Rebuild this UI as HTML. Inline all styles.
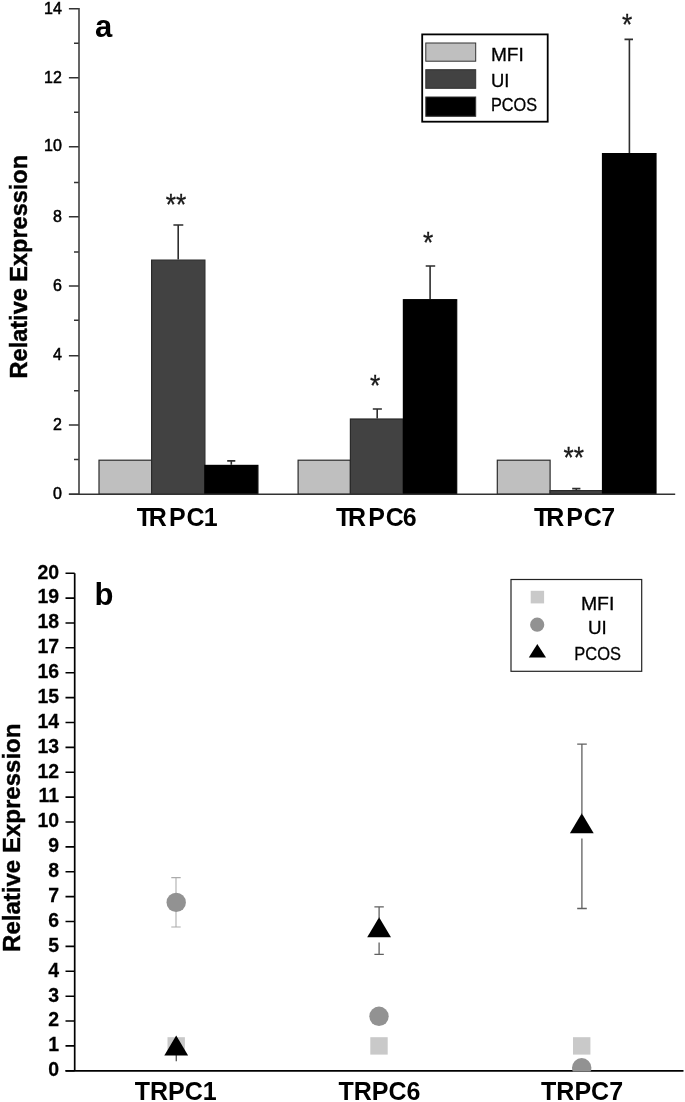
<!DOCTYPE html>
<html lang="en">
<head>
<meta charset="utf-8">
<title>Relative expression of TRPC1, TRPC6 and TRPC7</title>
<style>
html,body{margin:0;padding:0;background:#fff;}
body{width:685px;height:1102px;overflow:hidden;font-family:"Liberation Sans",sans-serif;}
svg{display:block;}
</style>
</head>
<body>
<svg width="685" height="1102" viewBox="0 0 685 1102">
<defs><filter id="soft" x="0" y="0" width="685" height="1102" filterUnits="userSpaceOnUse"><feGaussianBlur stdDeviation="0.45"/></filter></defs>
<rect width="685" height="1102" fill="#fff"/>
<g filter="url(#soft)">
<rect width="685" height="1102" fill="#fff"/>
<g id="chartA">
<path d="M178.2 259.5V225.0M173.4 225.0H183.3" stroke="#2e2e2e" stroke-width="1.6" fill="none"/>
<path d="M231.3 464.8V460.9M227.2 460.9H235.3" stroke="#2e2e2e" stroke-width="1.6" fill="none"/>
<path d="M377.2 418.4V409.0M372.8 409.0H381.9" stroke="#2e2e2e" stroke-width="1.6" fill="none"/>
<path d="M430.1 299.1V266.0M425.7 266.0H435.2" stroke="#2e2e2e" stroke-width="1.6" fill="none"/>
<path d="M576.3 490.0V488.6M572.2 488.6H580.4" stroke="#2e2e2e" stroke-width="1.6" fill="none"/>
<path d="M629.4 153.0V39.4M624.5 39.4H633.0" stroke="#2e2e2e" stroke-width="1.6" fill="none"/>
<rect x="99.0" y="460.2" width="52.6" height="34.1" fill="#bfbfbf" stroke="#2b2b2b" stroke-width="1.2"/>
<rect x="151.6" y="260.1" width="53.3" height="234.2" fill="#424242" stroke="#2b2b2b" stroke-width="1.2"/>
<rect x="204.9" y="465.4" width="53.0" height="28.9" fill="#000000" stroke="#000" stroke-width="1.2"/>
<rect x="298.1" y="460.2" width="52.3" height="34.1" fill="#bfbfbf" stroke="#2b2b2b" stroke-width="1.2"/>
<rect x="350.4" y="419.0" width="53.0" height="75.3" fill="#424242" stroke="#2b2b2b" stroke-width="1.2"/>
<rect x="403.4" y="299.7" width="53.3" height="194.6" fill="#000000" stroke="#000" stroke-width="1.2"/>
<rect x="497.3" y="460.2" width="52.8" height="34.1" fill="#bfbfbf" stroke="#2b2b2b" stroke-width="1.2"/>
<rect x="550.1" y="490.6" width="52.4" height="3.7" fill="#424242" stroke="#2b2b2b" stroke-width="1.2"/>
<rect x="602.5" y="153.6" width="53.5" height="340.7" fill="#000000" stroke="#000" stroke-width="1.2"/>
<path d="M79.0 8.0V494.3M68.9 494.3H675.2" stroke="#333333" stroke-width="1.5" fill="none"/>
<path d="M68.9 494.2H78.8M74.0 459.5H78.8M68.9 424.9H78.8M74.0 390.8H78.8M68.9 355.8H78.8M74.0 320.3H78.8M68.9 285.9H78.8M74.0 252.0H78.8M68.9 216.8H78.8M74.0 182.4H78.8M68.9 146.8H78.8M74.0 112.2H78.8M68.9 77.7H78.8M74.0 43.2H78.8M68.9 8.7H78.8" stroke="#333333" stroke-width="1.5" fill="none"/>
<g font-family="'Liberation Sans', sans-serif" font-size="16" fill="#000" stroke="#000" stroke-width="0.5" text-anchor="end">
<text x="61.8" y="499.1">0</text>
<text x="61.8" y="429.8">2</text>
<text x="61.8" y="360.0">4</text>
<text x="61.8" y="290.8">6</text>
<text x="61.8" y="221.8">8</text>
<text x="61.8" y="151.4">10</text>
<text x="61.8" y="82.6">12</text>
<text x="61.8" y="13.6">14</text>
</g>
<text transform="translate(26.6 378.4) rotate(-90)" font-family="'Liberation Sans', sans-serif" font-weight="bold" font-size="24" textLength="223.5" lengthAdjust="spacingAndGlyphs" fill="#000" stroke="#000" stroke-width="0.45">Relative Expression</text>
<text x="95" y="36.7" font-family="'Liberation Sans', sans-serif" font-weight="bold" font-size="31" fill="#000">a</text>
<g font-family="'Liberation Sans', sans-serif" font-weight="bold" font-size="26" fill="#000">
<text transform="translate(136.1 526.3) scale(0.96 1.02)" x="0.6 13.2 34.2 52.4 70.6" y="0">TRPC1</text>
<text transform="translate(335.4 526.3) scale(0.96 1.02)" x="0.6 13.2 34.2 52.4 70.2" y="0">TRPC6</text>
<text transform="translate(533.5 526.3) scale(0.96 1.02)" x="0.6 13.2 34.2 52.4 70.7" y="0">TRPC7</text>
</g>
<g font-family="'Liberation Sans', sans-serif" font-size="28" fill="#1a1a1a" stroke="#1a1a1a" stroke-width="0.3" text-anchor="middle">
<text transform="translate(176.1 213.7) scale(0.94 1.06)">**</text>
<text transform="translate(428 252.3) scale(0.94 1.06)">*</text>
<text transform="translate(375 394.7) scale(0.94 1.06)">*</text>
<text transform="translate(573.8 466.6) scale(0.94 1.06)">**</text>
<text transform="translate(627 33.8) scale(0.94 1.06)">*</text>
</g>
<rect x="422.2" y="34.4" width="125.5" height="87.3" fill="#fff" stroke="#000" stroke-width="1.8"/>
<rect x="425.8" y="43" width="49.9" height="18.2" fill="#bfbfbf" stroke="#333" stroke-width="1"/>
<rect x="425.8" y="69.7" width="49.9" height="18.6" fill="#424242" stroke="#333" stroke-width="1"/>
<rect x="425.8" y="97" width="49.9" height="19.3" fill="#000000" stroke="#333" stroke-width="1"/>
<g font-family="'Liberation Sans', sans-serif" font-size="19" fill="#000" stroke="#000" stroke-width="0.3">
<text x="490.9" y="61.2" textLength="32.9" lengthAdjust="spacingAndGlyphs">MFI</text>
<text x="490.9" y="86.5" textLength="18.4" lengthAdjust="spacingAndGlyphs">UI</text>
<text x="490.9" y="111.0" textLength="46.2" lengthAdjust="spacingAndGlyphs">PCOS</text>
</g>
</g>
<g id="chartB">
<rect x="167.5" y="1037.2" width="17.4" height="17.4" fill="#c9c9c9"/>
<rect x="370.3" y="1037.2" width="17.4" height="17.4" fill="#c9c9c9"/>
<rect x="573.0" y="1037.2" width="17.4" height="17.4" fill="#c9c9c9"/>
<path d="M176 877.6V926.9M171.3 877.6H180.7M171.3 926.9H180.7" stroke="#ababab" stroke-width="1.05" fill="none"/>
<path d="M74.7 573.2V1070.8M65.5 1070.8H683.5" stroke="#000" stroke-width="1.7" fill="none"/>
<path d="M65.5 1070.8H74.7M65.5 1045.9H74.7M65.5 1021.0H74.7M65.5 996.2H74.7M65.5 971.3H74.7M65.5 946.4H74.7M65.5 921.5H74.7M65.5 896.6H74.7M65.5 871.8H74.7M65.5 846.9H74.7M65.5 822.0H74.7M65.5 797.1H74.7M65.5 772.2H74.7M65.5 747.4H74.7M65.5 722.5H74.7M65.5 697.6H74.7M65.5 672.7H74.7M65.5 647.8H74.7M65.5 623.0H74.7M65.5 598.1H74.7M65.5 573.2H74.7" stroke="#000" stroke-width="1.6" fill="none"/>
<clipPath id="cb"><rect x="0" y="560" width="685" height="511.4"/></clipPath>
<g clip-path="url(#cb)" fill="#929292">
<circle cx="176.2" cy="902.4" r="9.7"/>
<circle cx="379.0" cy="1016.3" r="9.7"/>
<circle cx="581.7" cy="1067.8" r="9.7"/>
</g>
<path d="M176.3 1055V1061.2" stroke="#606060" stroke-width="1.4"/>
<path d="M379.1 918V906.9M374.4 906.9H383.8M379.1 942.6V954.3M374.4 954.3H383.8" stroke="#606060" stroke-width="1.3" fill="none"/>
<path d="M581.9 814V744.2M577.2 744.2H586.8M581.9 838.6V908.5M577.2 908.5H586.8" stroke="#606060" stroke-width="1.3" fill="none"/>
<path d="M176.2 1035.6L188.1 1055.6H164.3Z" fill="#000"/>
<path d="M379.1 917.2L391.0 937.2H367.2Z" fill="#000"/>
<path d="M581.8 813.2L593.7 833.2H569.9Z" fill="#000"/>
<g font-family="'Liberation Sans', sans-serif" font-weight="bold" font-size="20.5" fill="#000" stroke="#000" stroke-width="0.25" text-anchor="end">
<text transform="translate(59.1 1076.1) scale(0.95 1)">0</text>
<text transform="translate(59.1 1051.2) scale(0.95 1)">1</text>
<text transform="translate(59.1 1026.3) scale(0.95 1)">2</text>
<text transform="translate(59.1 1001.5) scale(0.95 1)">3</text>
<text transform="translate(59.1 976.6) scale(0.95 1)">4</text>
<text transform="translate(59.1 951.7) scale(0.95 1)">5</text>
<text transform="translate(59.1 926.8) scale(0.95 1)">6</text>
<text transform="translate(59.1 901.9) scale(0.95 1)">7</text>
<text transform="translate(59.1 877.1) scale(0.95 1)">8</text>
<text transform="translate(59.1 852.2) scale(0.95 1)">9</text>
<text transform="translate(59.1 827.3) scale(0.95 1)">10</text>
<text transform="translate(59.1 802.4) scale(0.95 1)">11</text>
<text transform="translate(59.1 777.5) scale(0.95 1)">12</text>
<text transform="translate(59.1 752.7) scale(0.95 1)">13</text>
<text transform="translate(59.1 727.8) scale(0.95 1)">14</text>
<text transform="translate(59.1 702.9) scale(0.95 1)">15</text>
<text transform="translate(59.1 678.0) scale(0.95 1)">16</text>
<text transform="translate(59.1 653.1) scale(0.95 1)">17</text>
<text transform="translate(59.1 628.3) scale(0.95 1)">18</text>
<text transform="translate(59.1 603.4) scale(0.95 1)">19</text>
<text transform="translate(59.1 578.5) scale(0.95 1)">20</text>
</g>
<text transform="translate(20 951.9) rotate(-90)" font-family="'Liberation Sans', sans-serif" font-weight="bold" font-size="24" textLength="228.3" lengthAdjust="spacingAndGlyphs" fill="#000" stroke="#000" stroke-width="0.4">Relative Expression</text>
<text x="94.5" y="604.5" font-family="'Liberation Sans', sans-serif" font-weight="bold" font-size="31" fill="#000">b</text>
<g font-family="'Liberation Sans', sans-serif" font-weight="bold" font-size="25" fill="#000">
<text x="134.8" y="1099.6">TRPC1</text>
<text x="338.5" y="1099.6">TRPC6</text>
<text x="541.1" y="1099.6">TRPC7</text>
</g>
<rect x="511" y="579.5" width="130.7" height="91.8" fill="#fff" stroke="#222" stroke-width="1.2"/>
<rect x="530.7" y="590.8" width="13.4" height="12.6" fill="#c9c9c9"/>
<circle cx="537.2" cy="624.7" r="7.1" fill="#929292"/>
<path d="M537.3 644L546 657.6H528.8Z" fill="#000"/>
<g font-family="'Liberation Sans', sans-serif" font-size="19" fill="#000" stroke="#000" stroke-width="0.3">
<text x="580.9" y="609.6" textLength="33.5" lengthAdjust="spacingAndGlyphs">MFI</text>
<text x="588.0" y="634.3" textLength="18.8" lengthAdjust="spacingAndGlyphs">UI</text>
<text x="574.3" y="659.9" textLength="46.6" lengthAdjust="spacingAndGlyphs">PCOS</text>
</g>
</g>
</g>
</svg>
</body>
</html>
